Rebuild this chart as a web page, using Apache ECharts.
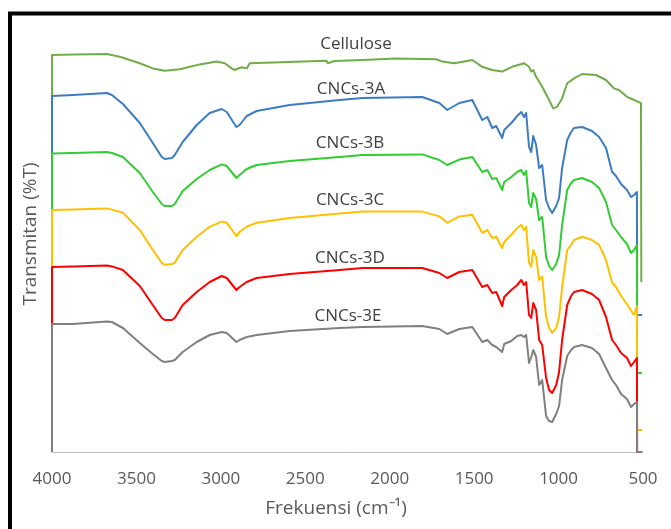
<!DOCTYPE html>
<html>
<head>
<meta charset="utf-8">
<script src="https://cdn.jsdelivr.net/npm/echarts@6/dist/echarts.min.js"></script>
<style>
html,body{margin:0;padding:0;background:#fff;}
#chart{width:671px;height:529px;}
</style>
</head>
<body>
<div id="chart"></div>
<script>
// ---- data (wavenumber in cm-1, transmittance in arbitrary stacked units) ----
const seriesNames = ['Cellulose', 'CNCs-3A', 'CNCs-3B', 'CNCs-3C', 'CNCs-3D', 'CNCs-3E'];
const xTicks = [4000, 3500, 3000, 2500, 2000, 1500, 1000, 500];

const wnCellulose = [4000, 3876, 3675, 3598, 3480, 3403, 3332, 3243, 3125, 3025, 2977, 2936, 2918, 2877, 2847, 2829, 2693, 2374, 2368, 2327, 2161, 1960, 1724, 1688, 1617, 1511, 1452, 1393, 1334, 1275, 1204, 1175, 1162, 1150, 1133, 1097, 1056, 1032, 1009, 979, 949, 908, 861, 778, 719, 672, 642, 595, 553, 512];
const tCellulose = [99.25, 99.4, 99.5, 98.8, 97.2, 95.9, 95.3, 95.7, 96.9, 97.6, 97.2, 95.9, 95.5, 96.2, 95.9, 97.2, 97.4, 97.8, 97.2, 97.75, 98.0, 98.4, 98.2, 97.6, 97.2, 98.0, 96.3, 95.5, 95.1, 96.3, 97.2, 96.3, 95.1, 95.5, 93.8, 91.3, 88.0, 85.9, 86.3, 88.4, 92.2, 93.4, 94.5, 94.25, 93.0, 90.9, 90.5, 88.8, 88.0, 87.2];

const wnCNC = [4000, 3876, 3675, 3645, 3580, 3480, 3403, 3350, 3332, 3290, 3273, 3226, 3143, 3066, 2995, 2965, 2908, 2889, 2847, 2788, 2593, 2297, 2161, 1807, 1706, 1659, 1588, 1511, 1452, 1422, 1393, 1369, 1334, 1322, 1280, 1245, 1221, 1205, 1192, 1175, 1162, 1150, 1133, 1115, 1097, 1074, 1056, 1038, 1014, 997, 979, 949, 926, 908, 861, 802, 760, 719, 683, 660, 630, 595, 571, 553, 536];

const t3A = [89.0, 89.25, 89.75, 89.25, 87.0, 82.25, 77.25, 73.75, 73.25, 73.5, 74.25, 77.5, 81.75, 84.75, 85.75, 85.0, 81.25, 81.75, 84.0, 85.25, 86.75, 88.0, 88.5, 88.75, 87.25, 85.5, 87.25, 88.0, 83.0, 83.75, 81.0, 81.5, 78.5, 80.5, 82.25, 84.0, 85.0, 83.75, 84.75, 76.25, 75.0, 79.0, 76.75, 71.0, 71.75, 63.0, 61.0, 59.75, 61.5, 63.5, 71.0, 78.0, 80.0, 81.0, 81.25, 80.25, 78.75, 76.0, 70.0, 69.0, 67.0, 65.5, 63.75, 64.25, 65.0];
const t3B = [74.6, 74.75, 75.0, 74.75, 73.75, 69.75, 65.0, 62.0, 61.5, 61.5, 62.0, 65.25, 68.25, 70.5, 71.9, 71.5, 68.5, 69.25, 70.75, 71.75, 72.75, 73.75, 74.25, 74.4, 73.0, 71.75, 73.1, 73.75, 70.0, 70.5, 68.25, 68.5, 65.5, 67.5, 68.75, 70.0, 70.5, 69.25, 70.25, 62.25, 61.25, 64.75, 63.25, 58.0, 58.75, 48.75, 46.5, 45.5, 47.0, 49.25, 56.75, 65.5, 67.25, 68.0, 68.5, 67.5, 66.0, 62.5, 56.75, 55.5, 53.75, 52.0, 49.75, 50.5, 51.75];
const t3C = [60.5, 60.6, 60.9, 60.6, 59.8, 55.5, 50.5, 47.3, 46.8, 47.0, 47.3, 50.5, 53.8, 56.3, 57.6, 57.3, 54.0, 55.0, 56.3, 57.3, 58.5, 59.6, 60.1, 60.1, 58.9, 57.3, 58.9, 59.3, 54.8, 55.5, 53.5, 53.8, 51.0, 52.5, 54.3, 56.0, 56.8, 55.5, 56.3, 47.3, 46.3, 50.5, 48.8, 43.0, 43.8, 33.8, 31.0, 29.8, 31.0, 33.8, 41.3, 50.5, 51.8, 53.0, 53.8, 53.0, 51.8, 48.0, 42.3, 41.3, 39.0, 37.0, 35.3, 34.3, 36.5];
const t3D = [46.25, 46.4, 46.6, 46.4, 45.5, 41.5, 36.75, 33.5, 33.0, 33.0, 33.5, 36.75, 40.0, 42.5, 44.0, 43.5, 40.5, 41.25, 42.5, 43.5, 44.5, 45.5, 46.0, 46.0, 44.75, 43.5, 45.0, 45.5, 41.25, 41.75, 39.75, 40.0, 36.5, 38.75, 40.5, 41.75, 43.0, 41.75, 42.5, 34.25, 33.5, 37.25, 35.5, 28.0, 26.75, 18.5, 15.5, 14.75, 16.75, 20.0, 28.0, 36.75, 39.0, 40.0, 40.5, 39.5, 38.0, 33.75, 28.0, 26.75, 24.75, 23.5, 21.5, 22.5, 23.5];
const t3E = [32.0, 32.0, 32.6, 32.5, 31.0, 27.25, 24.5, 22.75, 22.5, 22.75, 23.0, 25.0, 27.5, 29.25, 30.0, 29.75, 27.5, 28.0, 28.75, 29.25, 30.25, 31.0, 31.25, 31.5, 30.75, 29.5, 30.75, 31.25, 27.5, 28.0, 26.75, 26.25, 25.0, 27.0, 27.75, 29.0, 29.25, 28.75, 29.25, 22.25, 23.75, 25.5, 23.75, 16.75, 18.0, 9.0, 7.75, 7.5, 9.5, 11.5, 18.0, 24.0, 25.5, 26.25, 26.75, 26.0, 24.5, 21.0, 18.0, 16.75, 14.5, 13.25, 11.25, 12.0, 12.5];

// end-of-scan drop of each trace (wavenumber of the drop, level reached, and tail end)
const dropWn = [510, 535, 535, 535, 535, 535];
const dropLevel = [42.5, 34.25, 19.75, 5.5, 0, 0];
const tailWn = [null, 505, 505, 505, 505, 505];

const colors = ['#70AD47', '#3C7CC2', '#33CC33', '#FFC000', '#FF0000', '#808080'];

const xs = [wnCellulose, wnCNC, wnCNC, wnCNC, wnCNC, wnCNC];
const ys = [tCellulose, t3A, t3B, t3C, t3D, t3E];

function buildData(i) {
  const d = [[xs[i][0], 0]];
  for (let k = 0; k < xs[i].length; k++) d.push([xs[i][k], ys[i][k]]);
  d.push([dropWn[i], dropLevel[i]]);
  if (tailWn[i] !== null) d.push([tailWn[i], dropLevel[i]]);
  return d;
}

const chart = echarts.init(document.getElementById('chart'), null, {renderer: 'canvas'});

const labelPos = [[356, 44], [351, 89], [350, 143], [350, 200], [350, 258], [348, 316]];

const graphics = [
  {type: 'rect', shape: {x: 10, y: 13.5, width: 700, height: 600}, style: {fill: 'none', stroke: '#000', lineWidth: 4}, z: 100},
  {type: 'text', x: 31, y: 234, rotation: Math.PI / 2, style: {text: 'Transmitan (%T)', fontFamily: 'Open Sans', fontSize: 19, fill: '#595959', textAlign: 'center', textVerticalAlign: 'middle'}, z: 100},
  {type: 'text', x: 336, y: 509, style: {text: 'Frekuensi (cm\u207B\u00B9)', fontFamily: 'Open Sans', fontSize: 19, fill: '#595959', textAlign: 'center', textVerticalAlign: 'middle'}, z: 100}
];
seriesNames.forEach((n, i) => {
  graphics.push({type: 'text', x: labelPos[i][0], y: labelPos[i][1], style: {text: n, fontFamily: 'Open Sans', fontSize: 17, fill: '#404040', textAlign: 'center', textVerticalAlign: 'middle'}, z: 100});
});

chart.setOption({
  animation: false,
  backgroundColor: '#fff',
  grid: {left: 52, right: 28, top: 44, bottom: 77},
  xAxis: {
    type: 'value', inverse: true, min: 500, max: 4000, interval: 500,
    axisLine: {show: true, lineStyle: {color: '#BFBFBF', width: 1}},
    axisTick: {show: false},
    splitLine: {show: false},
    axisLabel: {color: '#595959', fontFamily: 'Open Sans', fontSize: 17, margin: 19,
      formatter: v => (xTicks.indexOf(v) >= 0 ? String(v) : '')}
  },
  yAxis: {
    type: 'value', min: 0, max: 102,
    axisLine: {show: false}, axisTick: {show: false}, axisLabel: {show: false}, splitLine: {show: false}
  },
  series: seriesNames.map((n, i) => ({
    name: n, type: 'line', data: buildData(i), showSymbol: false, symbol: 'none',
    clip: false,
    lineStyle: {color: colors[i], width: 2, join: 'round'},
    itemStyle: {color: colors[i]}
  })),
  graphic: graphics
});
</script>
</body>
</html>
